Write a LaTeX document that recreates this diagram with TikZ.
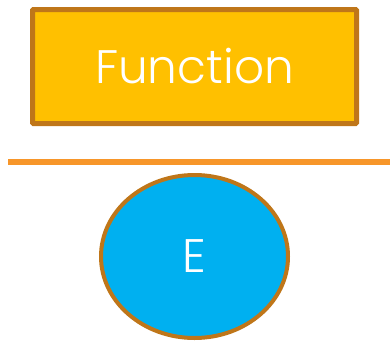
\documentclass[tikz,border=0pt]{standalone}
\usepackage{fontspec}
\setmainfont{Poppins Light}
\usetikzlibrary{shapes.geometric}
\definecolor{gold}{HTML}{FFC000}
\definecolor{brownedge}{HTML}{BF7619}
\definecolor{orangeline}{HTML}{F7962A}
\definecolor{skyblue}{HTML}{00B0F0}
\tikzset{
  funcbox/.style={draw=brownedge, line width=5pt, fill=gold, rounded corners=1pt,
    minimum width=324pt, minimum height=114pt, inner sep=0pt,
    text=white, font=\fontsize{47}{50}\selectfont},
  ebubble/.style={ellipse, draw=brownedge, line width=4pt, fill=skyblue,
    minimum width=187pt, minimum height=163pt, inner sep=0pt,
    text=white, font=\fontsize{47}{50}\selectfont},
  divider/.style={draw=orangeline, line width=5.5pt}
}
\begin{document}
\begin{tikzpicture}[x=1pt,y=-1pt]
\useasboundingbox (0,0) rectangle (390,340);
\node[funcbox] (func) at (194.5,66.5) {\raisebox{-1.5pt}{Function}};
\coordinate (la) at (8,162);
\coordinate (lb) at (390,162);
\draw[divider] (la) -- (lb);
\node[ebubble] (e) at (194.5,256.5) {\raisebox{-2pt}{E}};
\end{tikzpicture}
\end{document}
